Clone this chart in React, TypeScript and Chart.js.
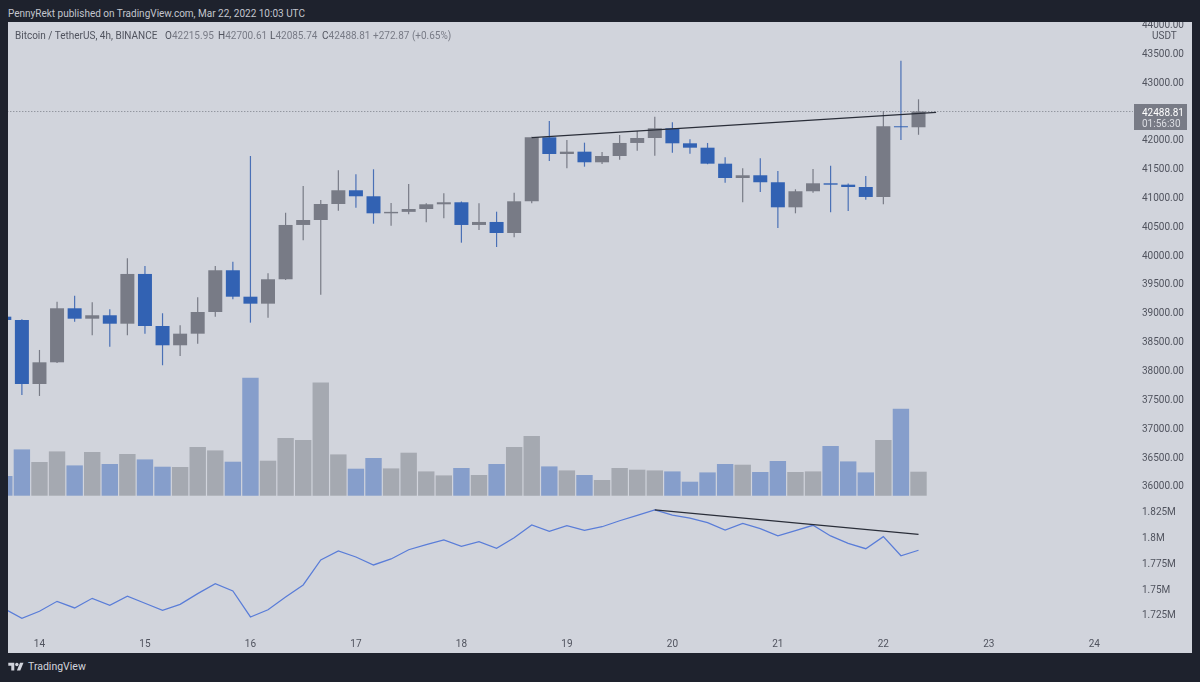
import { useEffect, useRef } from "react";
import { Chart, registerables } from "chart.js";

Chart.register(...registerables);

const firstCandle = -2; // candle number relative to the one opening day 14

const opens = [38934, 38876, 37767, 38143, 39079, 38899, 38958, 38812, 39674, 38772, 38438, 38639, 39015, 39738, 39280, 39159, 39582, 40523, 40609, 40886, 41124, 41020, 40725, 40750, 40800, 40881, 40916, 40523, 40575, 40384, 40933, 42042, 41753, 41793, 41609, 41718, 41944, 42030, 42198, 41938, 41862, 41585, 41337, 41384, 41263, 40829, 41107, 41245, 41221, 41181, 41008, 42233, 42215.95];
const highs = [39015, 38890, 38357, 39194, 39298, 39183, 39062, 39946, 39812, 38993, 38785, 39270, 39812, 39887, 41718, 39686, 40736, 41198, 40956, 41470, 41401, 41488, 40904, 41233, 40899, 41072, 40930, 40899, 40753, 41082, 42053, 42325, 41995, 41949, 41788, 42082, 42152, 42399, 42302, 42008, 41944, 41696, 41505, 41678, 41458, 41141, 41493, 41550, 41240, 41372, 42498, 43370, 42700.61];
const lows = [38842, 37577, 37560, 38130, 38847, 38611, 38414, 38611, 38639, 38092, 38253, 38466, 38934, 39235, 38830, 38916, 39570, 40257, 39315, 40770, 40822, 40545, 40510, 40708, 40569, 40639, 40216, 40436, 40141, 40310, 40899, 41632, 41505, 41533, 41580, 41654, 41810, 41723, 41775, 41758, 41575, 41256, 40916, 41094, 40471, 40725, 41082, 40743, 40765, 40961, 40881, 41995, 42085.74];
const closes = [38876, 37767, 38143, 39079, 38899, 38958, 38812, 39674, 38772, 38438, 38639, 39015, 39738, 39280, 39159, 39582, 40523, 40609, 40886, 41124, 41020, 40725, 40750, 40800, 40881, 40916, 40523, 40575, 40384, 40933, 42042, 41753, 41793, 41609, 41718, 41944, 42030, 42198, 41938, 41862, 41585, 41337, 41384, 41263, 40829, 41107, 41245, 41221, 41181, 41008, 42233, 42216, 42488.81];
const volumes = [1970, 4630, 3370, 4430, 3030, 4370, 3170, 4170, 3630, 2900, 2870, 4870, 4530, 3400, 11800, 3500, 5770, 5570, 11330, 4130, 2700, 3770, 2730, 4300, 2430, 2030, 2770, 2070, 3170, 4870, 5970, 2930, 2530, 2070, 1570, 2770, 2600, 2530, 2430, 1400, 2330, 3170, 3100, 2370, 3470, 2370, 2430, 4970, 3430, 2330, 5570, 8700, 2400];
const obv = [1.7311, 1.7218, 1.7286, 1.7382, 1.7318, 1.7411, 1.7344, 1.7431, 1.7363, 1.7295, 1.7353, 1.7456, 1.7552, 1.7482, 1.7231, 1.7301, 1.7424, 1.754, 1.7781, 1.7868, 1.781, 1.7733, 1.7791, 1.788, 1.7929, 1.7974, 1.7913, 1.7958, 1.7894, 1.7996, 1.8119, 1.8058, 1.8112, 1.8068, 1.8102, 1.816, 1.8212, 1.8264, 1.8215, 1.8186, 1.8141, 1.807, 1.8135, 1.8083, 1.8013, 1.8064, 1.8116, 1.8013, 1.7942, 1.789, 1.8006, 1.7822, 1.7875];

const dayLabels = ["14", "15", "16", "17", "18", "19", "20", "21", "22", "23", "24"];
const priceTicks = [36000, 36500, 37000, 37500, 38000, 38500, 39000, 39500, 40000, 40500, 41000, 41500, 42000, 43000, 43500, 44000];
const obvTicks = [1.725, 1.75, 1.775, 1.8, 1.825];

const lastPrice = 42488.81;
const priceTrendX = [28, 51];
const priceTrendY = [42035, 42475];
const obvTrendX = [35, 50];
const obvTrendY = [1.8264, 1.8029];

const publishedText = "PennyRekt published on TradingView.com, Mar 22, 2022 10:03 UTC";
const symbolText = "Bitcoin / TetherUS, 4h, BINANCE";
const ohlcLabels = ["O", "H", "L", "C"];
const ohlcValues = ["42215.95", "42700.61", "42085.74", "42488.81"];
const changeText = "+272.87 (+0.65%)";

const FONT = 'Roboto, sans-serif';
const DARK = "#1e222d";
const PANEL = "#d1d4dc";
const TEXT = "#50535e";
const GREY = "#787b86";
const BLUE = "#3262b3";
const BLUE_WICK = "#4a70b6";
const VOL_BLUE = "#869ecb";
const VOL_GREY = "#a5a9b1";
const OBV_LINE = "#5a7dd8";
const TREND = "#2a2e39";

const candleX = (i: number) => firstCandle + i;
const isDown = (i: number) => closes[i] < opens[i];

const fixWidth = (s: any) => {
  s.width = 59;
  s.paddingTop = 0;
  s.paddingBottom = 0;
};

// price tag and currency name on the right axis
const priceTag = {
  id: "priceTag",
  afterDraw(chart: any) {
    const ctx = chart.ctx;
    ctx.save();
    ctx.textBaseline = "middle";
    ctx.textAlign = "left";
    ctx.font = "10px " + FONT;
    ctx.fillStyle = TEXT;
    ctx.fillText("USDT", 1144, 14);
    ctx.fillStyle = GREY;
    ctx.fillRect(1126, 82, 53, 26);
    ctx.fillStyle = "#ffffff";
    ctx.fillText(lastPrice.toFixed(2), 1134, 91);
    ctx.fillStyle = "#dcdee4";
    ctx.fillText("01:56:30", 1134, 102);
    ctx.restore();
  },
};

export default function App() {
  const canvasRef = useRef<HTMLCanvasElement>(null);

  useEffect(() => {
    if (!canvasRef.current) return;

    const chart = new Chart(canvasRef.current, {
      type: "bar",
      data: {
        datasets: [
          {
            type: "line",
            data: [{ x: firstCandle, y: lastPrice }, { x: 64, y: lastPrice }],
            yAxisID: "price",
            borderColor: GREY,
            borderWidth: 1,
            borderDash: [1, 2],
            pointRadius: 0,
            order: 5,
          },
          {
            data: volumes.map((v, i) => ({ x: candleX(i), y: v })),
            yAxisID: "volume",
            backgroundColor: volumes.map((_, i) => (isDown(i) ? VOL_BLUE : VOL_GREY)),
            barThickness: 16.4,
            grouped: false,
            inflateAmount: 0,
            order: 6,
          },
          {
            data: highs.map((h, i) => ({ x: candleX(i), y: [lows[i], h] })),
            yAxisID: "price",
            backgroundColor: highs.map((_, i) => (isDown(i) ? BLUE_WICK : GREY)),
            barThickness: 1.2,
            grouped: false,
            inflateAmount: 0,
            order: 4,
          },
          {
            data: opens.map((o, i) => ({ x: candleX(i), y: [o, closes[i]] })),
            yAxisID: "price",
            backgroundColor: opens.map((_, i) => (isDown(i) ? BLUE : GREY)),
            barThickness: 14,
            grouped: false,
            inflateAmount: 0,
            order: 3,
          },
          {
            type: "line",
            data: obv.map((v, i) => ({ x: candleX(i), y: v })),
            yAxisID: "obv",
            borderColor: OBV_LINE,
            borderWidth: 1.25,
            pointRadius: 0,
            tension: 0,
            order: 2,
          },
          {
            type: "line",
            data: priceTrendX.map((x, i) => ({ x, y: priceTrendY[i] })),
            yAxisID: "price",
            borderColor: TREND,
            borderWidth: 1.2,
            pointRadius: 0,
            order: 1,
          },
          {
            type: "line",
            data: obvTrendX.map((x, i) => ({ x, y: obvTrendY[i] })),
            yAxisID: "obv",
            borderColor: TREND,
            borderWidth: 1.2,
            pointRadius: 0,
            order: 1,
          },
        ] as any,
      },
      options: {
        responsive: false,
        animation: false,
        events: [],
        layout: { padding: 0 },
        plugins: { legend: { display: false }, tooltip: { enabled: false } },
        scales: {
          x: {
            type: "linear",
            offset: false,
            min: -1.79,
            max: 62.2,
            grid: { display: false, offset: false },
            border: { display: false },
            afterBuildTicks: (s: any) => {
              s.ticks = dayLabels.map((_, i) => ({ value: i * 6 }));
            },
            afterFit: (s: any) => {
              s.height = 25;
              s.paddingLeft = 0;
              s.paddingRight = 0;
            },
            ticks: {
              autoSkip: false,
              maxRotation: 0,
              padding: 2,
              color: TEXT,
              font: { family: FONT, size: 10 },
              callback: (v: any) => dayLabels[Math.round(v / 6)],
            },
          },
          price: {
            type: "linear",
            position: "right",
            stack: "right",
            stackWeight: 478,
            min: 35757,
            max: 44040,
            grid: { display: false, drawTicks: false },
            border: { display: false },
            afterBuildTicks: (s: any) => {
              s.ticks = priceTicks.map((value) => ({ value }));
            },
            afterFit: fixWidth,
            ticks: {
              autoSkip: false,
              padding: 9,
              labelOffset: 1,
              color: TEXT,
              font: { family: FONT, size: 10 },
              callback: (v: any) => Number(v).toFixed(2),
            },
          },
          obv: {
            type: "linear",
            position: "right",
            stack: "right",
            stackWeight: 128,
            min: 1.71245,
            max: 1.836,
            grid: { display: false, drawTicks: false },
            border: { display: false },
            afterBuildTicks: (s: any) => {
              s.ticks = obvTicks.map((value) => ({ value }));
            },
            afterFit: fixWidth,
            ticks: {
              autoSkip: false,
              padding: 9,
              labelOffset: 1,
              color: TEXT,
              font: { family: FONT, size: 10 },
              callback: (v: any) => v + "M",
            },
          },
          volume: {
            type: "linear",
            position: "right",
            display: false,
            min: -13230,
            max: 47370,
          },
        },
      } as any,
      plugins: [priceTag],
    });

    return () => {
      chart.destroy();
    };
  }, []);

  const legendLeft = [165, 218, 270, 322];

  return (
    <div style={{ position: "fixed", inset: 0, background: DARK, fontFamily: FONT, overflow: "hidden" }}>
      <div style={{ position: "absolute", left: 8, top: 6, fontSize: 10, lineHeight: "16px", color: "#c3c6ce", whiteSpace: "nowrap" }}>
        {publishedText}
      </div>
      <canvas
        ref={canvasRef}
        width={1184}
        height={631}
        style={{ position: "absolute", left: 8, top: 22, width: 1184, height: 631, background: PANEL }}
      />
      <div style={{ position: "absolute", left: 15, top: 28, fontSize: 10, lineHeight: "16px", color: TEXT, whiteSpace: "nowrap" }}>
        {symbolText}
      </div>
      {ohlcLabels.map((label, i) => (
        <div key={label} style={{ position: "absolute", left: legendLeft[i], top: 28, fontSize: 10, lineHeight: "16px", color: TEXT, whiteSpace: "nowrap" }}>
          {label}
          <span style={{ color: GREY }}>{ohlcValues[i]}</span>
        </div>
      ))}
      <div style={{ position: "absolute", left: 373, top: 28, fontSize: 10, lineHeight: "16px", color: GREY, whiteSpace: "nowrap" }}>
        {changeText}
      </div>
      <svg viewBox="0 0 36 28" width={16} height={12} style={{ position: "absolute", left: 8, top: 661 }}>
        <path fill={PANEL} d="M14 22H7V11H0V4h14v18zM28 22h-8l7.5-18h8L28 22z" />
        <circle fill={PANEL} cx={20} cy={8} r={4} />
      </svg>
      <div style={{ position: "absolute", left: 28, top: 659, fontSize: 10.5, lineHeight: "16px", color: PANEL, whiteSpace: "nowrap" }}>
        TradingView
      </div>
    </div>
  );
}
